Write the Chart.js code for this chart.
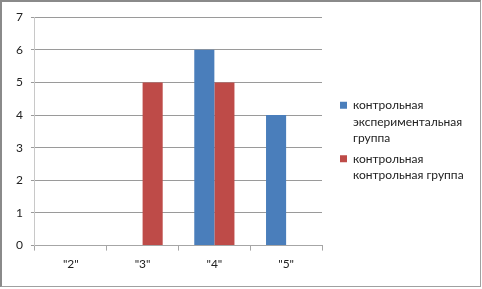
<!DOCTYPE html>
<html>
<head>
<meta charset="utf-8">
<script src="https://cdn.jsdelivr.net/npm/chart.js@4/dist/chart.umd.min.js"></script>
<style>
  html, body { margin: 0; padding: 0; background: #fff; }
  #wrap {
    position: absolute; left: 0; top: 0;
    width: 478px; height: 284px;
    border-top: 2px solid #8a8a8a; border-left: 2px solid #8a8a8a;
    border-right: 1px solid #a0a0a0; border-bottom: 1px solid #a0a0a0;
  }
</style>
</head>
<body>
<div id="wrap"><canvas id="grafico" width="478" height="284"></canvas></div>
<script>
// Оценки и данные по группам
const categorias = ['"2"', '"3"', '"4"', '"5"']
const experimental = [0, 0, 6, 4]
const control = [0, 5, 5, 0]
const nombres = [
  ['контрольная', 'экспериментальная', 'группа'],
  ['контрольная', 'контрольная группа'],
]

const fuente = 'Lato, "Open Sans", sans-serif'

// ancho fijo de la leyenda (Chart.js la calcula algo estrecha con textos en varias líneas)
const leyendaAncha = {
  id: 'leyendaAncha',
  beforeLayout(chart) {
    const leg = chart.legend
    if (!leg || leg._parcheado) return
    const fitOriginal = leg.fit.bind(leg)
    const drawOriginal = leg.draw.bind(leg)
    leg.fit = function () {
      fitOriginal()
      this.width = 144
    }
    // subir un poco la leyenda
    leg.draw = function () {
      const c = this.ctx
      c.save()
      c.translate(0, -3)
      drawOriginal()
      c.restore()
    }
    leg._parcheado = true
  },
}

const ctx = document.getElementById('grafico').getContext('2d')
new Chart(ctx, {
  type: 'bar',
  data: {
    labels: categorias,
    datasets: [
      { label: nombres[0], data: experimental, backgroundColor: '#4a7ebb' },
      { label: nombres[1], data: control, backgroundColor: '#be4b48' },
    ],
  },
  options: {
    responsive: false,
    animation: false,
    layout: { padding: { left: 6, top: 12, right: 0, bottom: 9 } },
    datasets: { bar: { categoryPercentage: 0.56, barPercentage: 1 } },
    plugins: {
      tooltip: { enabled: false },
      legend: {
        position: 'right',
        align: 'center',
        labels: {
          boxWidth: 7,
          boxHeight: 7,
          padding: 4,
          color: '#222',
          font: { family: fuente, size: 12, lineHeight: 1.375 },
        },
      },
    },
    scales: {
      x: {
        grid: { drawOnChartArea: false, color: '#a6a6a6', tickLength: 5, offset: true },
        border: { color: '#a6a6a6' },
        ticks: { color: '#222', font: { family: fuente, size: 12 }, padding: 6 },
      },
      y: {
        min: 0,
        max: 7,
        ticks: { stepSize: 1, color: '#222', font: { family: fuente, size: 12 }, padding: 8 },
        grid: { color: '#9a9a9a', tickLength: 4 },
        border: { color: '#c8c8c8' },
      },
      // eje vacío a la derecha: solo deja hueco entre el gráfico y la leyenda
      hueco: {
        position: 'right',
        display: true,
        grid: { display: false },
        border: { display: false },
        ticks: { display: false },
        afterFit(scale) {
          scale.width = 14
        },
      },
    },
  },
  plugins: [leyendaAncha],
})
</script>
</body>
</html>
